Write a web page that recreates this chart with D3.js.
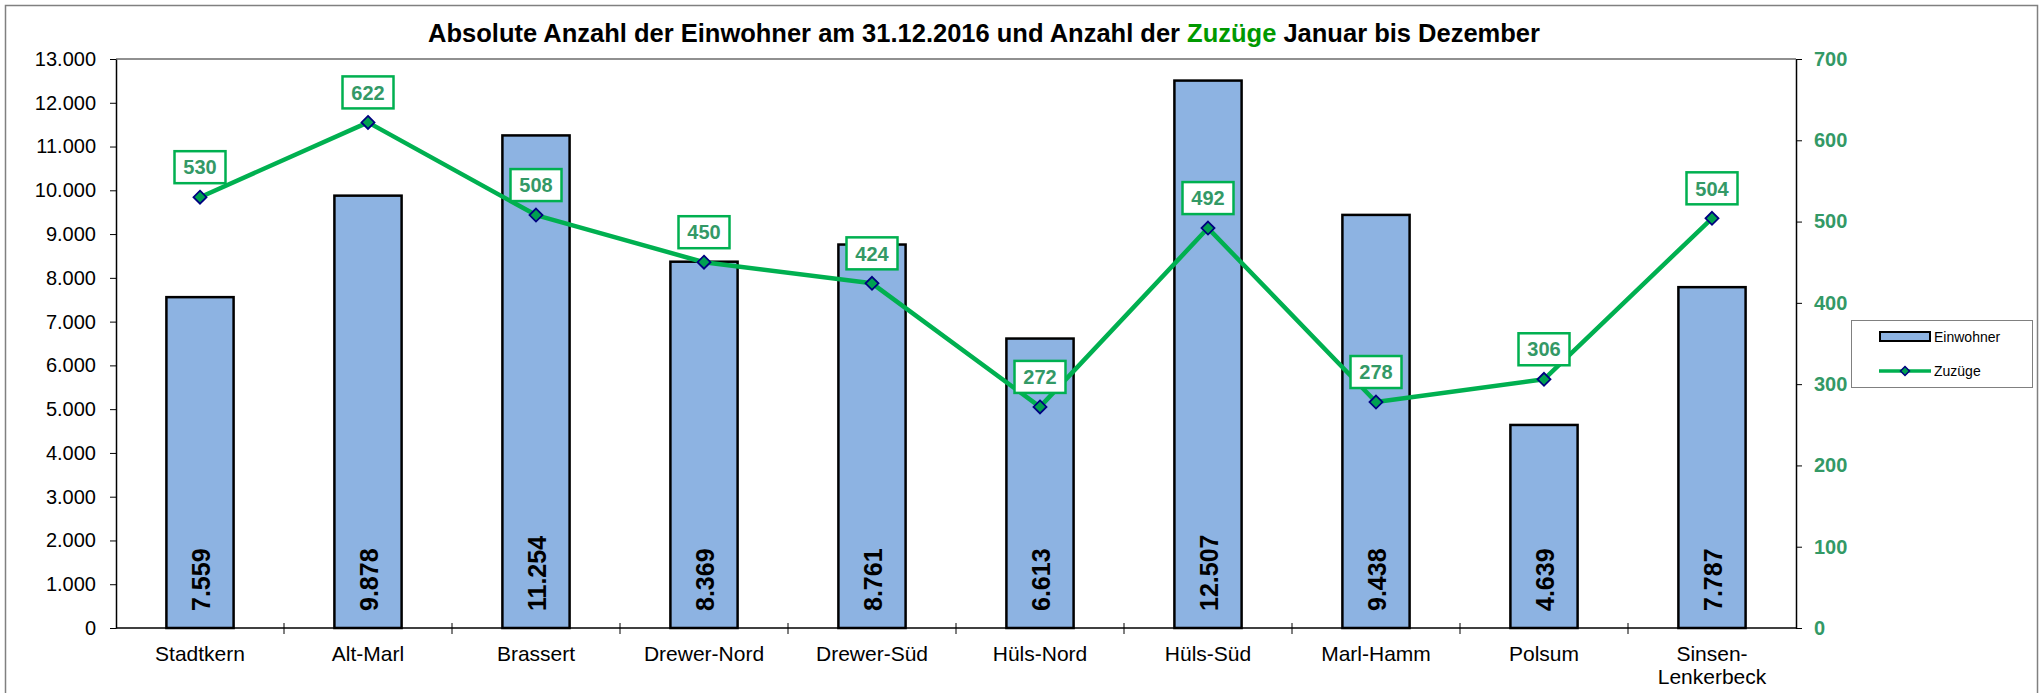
<!DOCTYPE html>
<html>
<head>
  <meta charset="utf-8">
  <title>Einwohner und Zuzüge 2016</title>
  <script src="https://cdn.jsdelivr.net/npm/d3@7/dist/d3.min.js"></script>
  <style>
    body { margin: 0; background: #fff; }
    svg text { font-family: "Liberation Sans", Arial, sans-serif; }
  </style>
</head>
<body>
<svg width="2042" height="693"></svg>

<script>
  // Daten
  var stadtteile = ["Stadtkern", "Alt-Marl", "Brassert", "Drewer-Nord", "Drewer-Süd", "Hüls-Nord", "Hüls-Süd", "Marl-Hamm", "Polsum", "Sinsen-Lenkerbeck"];
  var achsenLabels = ["Stadtkern", "Alt-Marl", "Brassert", "Drewer-Nord", "Drewer-Süd", "Hüls-Nord", "Hüls-Süd", "Marl-Hamm", "Polsum", "Sinsen-\nLenkerbeck"];
  var einwohner = [7559, 9878, 11254, 8369, 8761, 6613, 12507, 9438, 4639, 7787];
  var zuzuege = [530, 622, 508, 450, 424, 272, 492, 278, 306, 504];
  var ticksLinks = [0, 1000, 2000, 3000, 4000, 5000, 6000, 7000, 8000, 9000, 10000, 11000, 12000, 13000];
  var ticksRechts = [0, 100, 200, 300, 400, 500, 600, 700];

  var svg = d3.select("svg");
  // Zeichenfläche (nicht "top" nennen, das ist window.top)
  var pLeft = 116, pRight = 1796, pTop = 59, pBottom = 628;

  var de = d3.formatLocale({decimal: ",", thousands: ".", grouping: [3], currency: ["", " €"]});
  var fmt = de.format(",d");

  var x = d3.scaleBand().domain(stadtteile).range([pLeft, pRight]);
  var yL = d3.scaleLinear().domain([0, 13000]).range([pBottom, pTop]);
  var yR = d3.scaleLinear().domain([0, 700]).range([pBottom, pTop]);

  var gruen = "#00B050";
  var gruenText = "#339966";

  // Rahmen
  svg.append("rect")
    .attr("x", 5.5).attr("y", 5.5)
    .attr("width", 2032).attr("height", 700)
    .style("fill", "none").style("stroke", "#808080").style("stroke-width", 1.5);

  // Titel
  var title = svg.append("text")
    .attr("x", 984).attr("y", 42)
    .attr("text-anchor", "middle")
    .style("font-size", "25.5px").style("font-weight", "bold");
  title.append("tspan").text("Absolute Anzahl der Einwohner am 31.12.2016 und Anzahl der ");
  title.append("tspan").style("fill", "#009900").text("Zuzüge");
  title.append("tspan").text(" Januar bis Dezember");

  // obere Begrenzung der Zeichenfläche
  svg.append("line")
    .attr("x1", pLeft).attr("x2", pRight).attr("y1", pTop).attr("y2", pTop)
    .style("stroke", "#909090").style("stroke-width", 2);

  // Balken
  var bw = x.bandwidth() * 0.4;
  svg.selectAll(".bar")
    .data(einwohner)
    .enter().append("rect")
    .attr("class", "bar")
    .attr("x", function(d, i) { return x(stadtteile[i]) + (x.bandwidth() - bw) / 2; })
    .attr("y", function(d) { return yL(d); })
    .attr("width", bw)
    .attr("height", function(d) { return pBottom - yL(d); })
    .style("fill", "#8DB3E2")
    .style("stroke", "#000")
    .style("stroke-width", 2.5);

  // Balkenbeschriftung (senkrecht)
  svg.selectAll(".barlabel")
    .data(einwohner)
    .enter().append("text")
    .attr("class", "barlabel")
    .attr("transform", function(d, i) {
      return "translate(" + (x(stadtteile[i]) + x.bandwidth() / 2 + 1) + "," + (pBottom - 17) + ") rotate(-90)";
    })
    .attr("dy", "0.36em")
    .style("font-size", "25px").style("font-weight", "bold")
    .text(function(d) { return fmt(d); });

  // linke Achse
  var axL = svg.append("g")
    .attr("transform", "translate(" + pLeft + ",0)")
    .call(d3.axisLeft(yL).tickValues(ticksLinks).tickSize(6).tickSizeOuter(0).tickPadding(14).tickFormat(fmt));
  axL.select(".domain").style("stroke", "#000").style("stroke-width", 1.5);
  axL.selectAll(".tick line").style("stroke", "#000");
  axL.selectAll("text").style("font-size", "20px").style("fill", "#000").style("font-family", "Liberation Sans, Arial, sans-serif");

  // rechte Achse
  var axR = svg.append("g")
    .attr("transform", "translate(" + pRight + ",0)")
    .call(d3.axisRight(yR).tickValues(ticksRechts).tickSize(6).tickSizeOuter(0).tickPadding(12));
  axR.select(".domain").style("stroke", "#000").style("stroke-width", 1.5);
  axR.selectAll(".tick line").style("stroke", "#000");
  axR.selectAll("text").style("font-size", "20px").style("font-weight", "bold").style("fill", gruenText).style("font-family", "Liberation Sans, Arial, sans-serif");

  // x-Achse
  svg.append("line")
    .attr("x1", pLeft).attr("x2", pRight).attr("y1", pBottom).attr("y2", pBottom)
    .style("stroke", "#000").style("stroke-width", 1.5);
  svg.selectAll(".xtick")
    .data(stadtteile.slice(1))
    .enter().append("line")
    .attr("class", "xtick")
    .attr("x1", function(d) { return x(d); }).attr("x2", function(d) { return x(d); })
    .attr("y1", pBottom - 5).attr("y2", pBottom + 6)
    .style("stroke", "#000");

  var xl = svg.selectAll(".xlabel")
    .data(achsenLabels)
    .enter().append("text")
    .attr("class", "xlabel")
    .attr("x", function(d, i) { return x(stadtteile[i]) + x.bandwidth() / 2; })
    .attr("y", 661)
    .attr("text-anchor", "middle")
    .style("font-size", "21px");
  xl.each(function(d) {
    var t = d3.select(this);
    d.split("\n").forEach(function(s, j) {
      t.append("tspan").attr("x", t.attr("x")).attr("dy", j == 0 ? 0 : 23).text(s);
    });
  });

  // Linie Zuzüge
  var line = d3.line()
    .x(function(d, i) { return x(stadtteile[i]) + x.bandwidth() / 2; })
    .y(function(d) { return yR(d); });

  svg.append("path")
    .datum(zuzuege)
    .attr("d", line)
    .style("fill", "none")
    .style("stroke", gruen)
    .style("stroke-width", 4.5)
    .style("stroke-linejoin", "round");

  var diamond = "M0,-6.5L6.5,0L0,6.5L-6.5,0Z";
  svg.selectAll(".marker")
    .data(zuzuege)
    .enter().append("path")
    .attr("class", "marker")
    .attr("d", diamond)
    .attr("transform", function(d, i) { return "translate(" + (x(stadtteile[i]) + x.bandwidth() / 2) + "," + yR(d) + ")"; })
    .style("fill", "#00A050")
    .style("stroke", "#000080")
    .style("stroke-width", 1.8);

  // Datenbeschriftung Zuzüge
  var lab = svg.selectAll(".zlabel")
    .data(zuzuege)
    .enter().append("g")
    .attr("class", "zlabel")
    .attr("transform", function(d, i) { return "translate(" + (x(stadtteile[i]) + x.bandwidth() / 2) + "," + (yR(d) - 30) + ")"; });
  lab.append("rect")
    .attr("x", -25.5).attr("y", -16)
    .attr("width", 51).attr("height", 32)
    .style("fill", "#fff").style("stroke", gruen).style("stroke-width", 2.5);
  lab.append("text")
    .attr("text-anchor", "middle")
    .attr("dy", "0.36em")
    .style("font-size", "20px").style("font-weight", "bold")
    .style("fill", gruenText)
    .text(function(d) { return d; });

  // Legende
  var leg = svg.append("g");
  leg.append("rect")
    .attr("x", 1851.5).attr("y", 320.5).attr("width", 181).attr("height", 67)
    .style("fill", "#fff").style("stroke", "#808080").style("stroke-width", 1);
  leg.append("rect")
    .attr("x", 1880).attr("y", 332).attr("width", 50).attr("height", 9)
    .style("fill", "#8DB3E2").style("stroke", "#000").style("stroke-width", 2);
  leg.append("text")
    .attr("x", 1934).attr("y", 337).attr("dy", "0.36em")
    .style("font-size", "14px").text("Einwohner");
  leg.append("line")
    .attr("x1", 1879).attr("x2", 1931).attr("y1", 371).attr("y2", 371)
    .style("stroke", gruen).style("stroke-width", 3.5);
  leg.append("path")
    .attr("d", "M0,-4.5L4.5,0L0,4.5L-4.5,0Z")
    .attr("transform", "translate(1905,371)")
    .style("fill", "#00A050").style("stroke", "#000080").style("stroke-width", 1.5);
  leg.append("text")
    .attr("x", 1934).attr("y", 371).attr("dy", "0.36em")
    .style("font-size", "14px").text("Zuzüge");
</script>
</body>
</html>
